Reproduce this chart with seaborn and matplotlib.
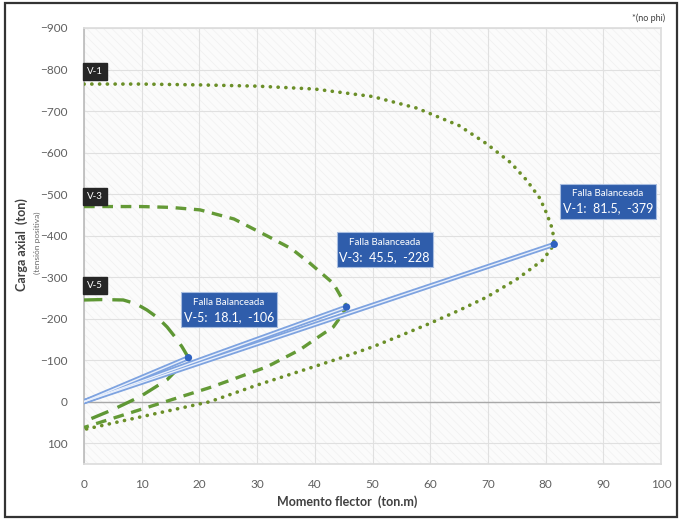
import matplotlib
matplotlib.use("Agg")
import matplotlib.pyplot as plt
from matplotlib.patches import Rectangle
import numpy as np
import seaborn as sns
import pandas as pd

# interaction curves: compression branch out to the balanced point, tension branch back to M=0
m_v1 = [0, 10, 20, 30, 40, 50, 57.7, 65, 69.8, 74, 76.8, 79, 80.2, 81.2, 81.5,
        80.5, 79.5, 75, 69.8, 65, 60, 55, 50, 44.4, 40, 30, 21.8, 10, 0]
p_v1 = [-765, -765, -763, -760, -753, -735, -707, -665, -621, -575, -532, -490, -453, -415, -379,
        -360, -341, -295, -252, -220, -189, -160, -132, -105, -85, -40, 0, 36, 67]

m_v3 = [0, 10, 15, 20.1, 26, 32.2, 36, 39.2, 43.2, 45.2, 45.5,
        44.5, 43.2, 40, 37.4, 31.7, 25, 21.8, 10, 0]
p_v3 = [-470, -470, -468, -462, -440, -396, -368, -333, -285, -237, -228,
        -205, -180, -150, -125, -84, -50, -34, 18, 62]

m_v5 = [0, 3, 6.8, 9, 10.9, 12.8, 14.4, 16, 17, 18.1,
        17.4, 16.6, 14.4, 12, 9.7, 5, 0]
p_v5 = [-245, -246, -245, -236, -221, -202, -180, -152, -132, -106,
        -95, -84, -53, -32, -12, 19, 48]

names = ["V-1", "V-3", "V-5"]
bal_m = [81.5, 45.5, 18.1]
bal_p = [-379, -228, -106]

x_ticks = list(range(0, 101, 10))
y_ticks = list(range(-900, 101, 100))

sns.set_theme(style="white")
plt.rcParams["font.family"] = ["Lato", "DejaVu Sans"]
plt.rcParams["hatch.linewidth"] = 0.5

fig = plt.figure(figsize=(6.8, 5.19), dpi=100)
ax = fig.add_axes([84 / 680, 1 - 464 / 519, 577 / 680, 436 / 519])

# patterned plot background (very faint)
ax.set_facecolor("#fbfbfb")
ax.add_patch(Rectangle((0, 0), 1, 1, transform=ax.transAxes, facecolor="#fbfbfb",
                       edgecolor="#f0f0f0", hatch="\\\\\\\\", lw=0, zorder=0))

for x in x_ticks:
    ax.axvline(x, color="#e0e0e0", lw=0.8, zorder=1)
for y in y_ticks:
    ax.axhline(y, color="#e0e0e0", lw=0.8, zorder=1)
ax.axhline(0, color="#a8a8a8", lw=1.0, zorder=1.5)

curves = [
    (m_v1, p_v1, "#6b8f28", (0, (0.05, 2.1)), 2.6, "round"),
    (m_v3, p_v3, "#649a36", (0, (3.2, 2.3)), 2.4, "butt"),
    (m_v5, p_v5, "#5e9734", (0, (5.5, 3.0)), 2.4, "butt"),
]
for mm, pp, col, ls, lw, cap in curves:
    df = pd.DataFrame({"M": mm, "P": pp})
    sns.lineplot(data=df, x="M", y="P", sort=False, estimator=None, ax=ax,
                 color=col, linestyle=ls, lw=lw, dash_capstyle=cap, zorder=3)

# lines from origin to balanced failure point
for bm, bp in zip(bal_m, bal_p):
    seg = pd.DataFrame({"M": [0, bm], "P": [0, bp]})
    sns.lineplot(data=seg, x="M", y="P", sort=False, estimator=None, ax=ax,
                 color="#7ea3e0", lw=3.6, zorder=4)
    sns.lineplot(data=seg, x="M", y="P", sort=False, estimator=None, ax=ax,
                 color="#e8effb", lw=1.0, zorder=4.5)
sns.scatterplot(x=bal_m, y=bal_p, ax=ax, color="#2f62c0", s=28, edgecolor="none", zorder=5)

# section labels at M=0
lab_y = [-795, -494, -280]
for nm, ly in zip(names, lab_y):
    ax.text(0.5, ly, nm, color="white", fontsize=7, va="center", ha="left", zorder=6,
            bbox=dict(boxstyle="square,pad=0.45", fc="#262626", ec="#262626"))

# balanced failure callouts
boxes = [(82.5, -525), (43.8, -408), (16.8, -264)]
for nm, bm, bp, (bx, by) in zip(names, bal_m, bal_p, boxes):
    ax.add_patch(Rectangle((bx, by), 16.6, 84, facecolor="#2f5dab", edgecolor="#a8bde0",
                           lw=0.8, zorder=6))
    ax.text(bx + 8.3, by + 24, "Falla Balanceada", color="white", fontsize=7,
            ha="center", va="center", zorder=7)
    ax.text(bx + 8.3, by + 60, f"{nm}:  {bm},  {bp}", color="white", fontsize=9,
            ha="center", va="center", zorder=7)

ax.set_xlim(0, 100)
ax.set_ylim(150, -900)
ax.set_xticks(x_ticks)
ax.set_yticks(y_ticks)
ax.tick_params(axis="both", length=0, labelsize=8.5, labelcolor="#5f5f5f")
ax.tick_params(axis="x", pad=11)
ax.tick_params(axis="y", pad=12)
ax.set_xlabel("")
ax.set_ylabel("")
for side in ["top", "right", "bottom"]:
    ax.spines[side].set_color("#dddddd")
ax.spines["left"].set_color("#bdbdbd")

fig.text(347 / 680, 1 - 502 / 519, "Momento flector  (ton.m)", fontsize=9, fontweight="bold",
         color="#404040", ha="center", va="center")
fig.text(22 / 680, 1 - 245 / 519, "Carga axial  (ton)", fontsize=9, fontweight="bold",
         color="#404040", rotation=90, ha="center", va="center")
fig.text(37 / 680, 1 - 243 / 519, "(tensión positiva)", fontsize=6, color="#6a6a6a",
         rotation=90, ha="center", va="center")
fig.text(665 / 680, 1 - 18 / 519, "*(no phi)", fontsize=6.5, color="#404040",
         ha="right", va="center")

fig.add_artist(Rectangle((5 / 680, 2 / 519), 672 / 680, 514 / 519, transform=fig.transFigure,
                         fill=False, edgecolor="#333333", lw=1.6))

fig.savefig("out.png", dpi=100)
